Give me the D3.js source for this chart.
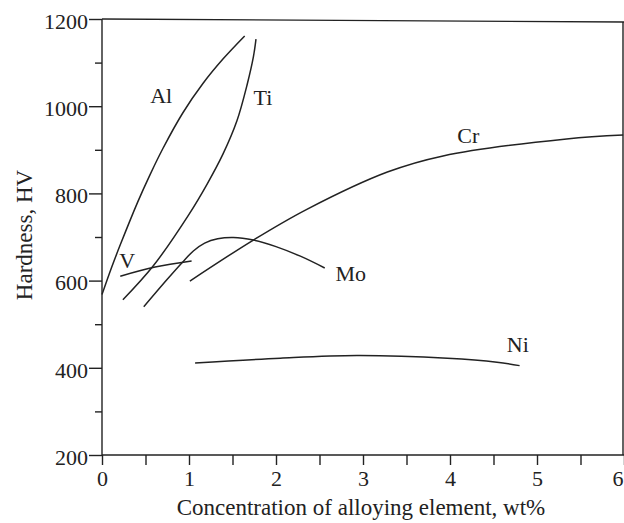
<!DOCTYPE html>
<html>
<head>
<meta charset="utf-8">
<script src="https://cdn.jsdelivr.net/npm/d3@7"></script>
<style>
  body { margin: 0; background: #fff; }
  text { font-family: "Liberation Serif", "Times New Roman", serif; fill: #222; }
</style>
</head>
<body>
<div id="chart"></div>
<script>
// concentration (wt%) and hardness (HV)
var alConc = [0, 0.11, 0.21, 0.41, 0.55, 0.70, 0.93, 1.16, 1.39, 1.64];
var alHv   = [568, 630, 682, 780, 842, 903, 985, 1052, 1108, 1161];

var tiConc = [0.24, 0.59, 1.0, 1.21, 1.39, 1.55, 1.67, 1.74, 1.77];
var tiHv   = [556, 634, 752, 822, 890, 966, 1051, 1113, 1154];

var moConc = [0.48, 0.75, 0.92, 1.05, 1.18, 1.33, 1.51, 1.74, 2.0, 2.28, 2.56];
var moHv   = [540, 603, 641, 668, 686, 696, 699, 693, 678, 656, 629];

var crConc = [1.01, 1.74, 2.36, 3.28, 3.92, 5.34, 5.99];
var crHv   = [599, 693, 764, 849, 886, 925, 934];

var vConc = [0.21, 0.61, 1.03];
var vHv   = [610, 631, 645];

var niConc = [1.07, 2.05, 2.93, 3.97, 4.54, 4.80];
var niHv   = [411, 422, 428, 422, 413, 405];

var seriesNames = ["Al", "Ti", "Mo", "Cr", "V", "Ni"];
var labelConc = [0.68, 1.85, 2.86, 4.21, 0.29, 4.78];
var labelHv   = [1007, 1003, 599, 916, 629, 436];

var xTickValues = [0, 1, 2, 3, 4, 5, 6];
var xMinorValues = [0.5, 1.5, 2.5, 3.5, 4.5, 5.5];
var yTickValues = [200, 400, 600, 800, 1000, 1200];
var yMinorValues = [300, 500, 700, 900, 1100];

var width = 624, height = 523;

var svg = d3.select("#chart").append("svg")
  .attr("width", width)
  .attr("height", height);

var x = d3.scaleLinear().domain([0, 6]).range([102, 624]);
var y = d3.scaleLinear().domain([200, 1200]).range([455, 19]);

var ink = "#222";

// frame: top line and right line
svg.append("line")
  .attr("x1", x(0)).attr("x2", 624)
  .attr("y1", y(1200)).attr("y2", y(1200) + 3)
  .attr("stroke", ink).attr("stroke-width", 1.4);
svg.append("line")
  .attr("x1", 623).attr("x2", 623)
  .attr("y1", y(1200) + 3).attr("y2", y(200))
  .attr("stroke", ink).attr("stroke-width", 1.4);

// y axis
var yAxis = d3.axisLeft(y).tickValues(yTickValues).tickSize(13).tickPadding(1)
  .tickFormat(d3.format("d"));
var gy = svg.append("g").attr("transform", "translate(" + x(0) + ",0)").call(yAxis);
gy.selectAll("text").attr("font-size", 22).attr("dy", "0.42em")
  .style("font-family", "Liberation Serif").attr("fill", ink);
gy.selectAll("line, path").attr("stroke", ink).attr("stroke-width", 1.4);
gy.select(".domain").attr("d", "M0," + y(1200) + "V" + y(200));

var yMinor = d3.axisLeft(y).tickValues(yMinorValues).tickSize(7).tickFormat("");
var gym = svg.append("g").attr("transform", "translate(" + x(0) + ",0)").call(yMinor);
gym.select(".domain").remove();
gym.selectAll("line").attr("stroke", ink).attr("stroke-width", 1.4);

// x axis
var xAxis = d3.axisBottom(x).tickValues(xTickValues).tickSize(10).tickPadding(5)
  .tickFormat(d3.format("d"));
var gx = svg.append("g").attr("transform", "translate(0," + y(200) + ")").call(xAxis);
gx.selectAll("text").attr("font-size", 22).attr("dy", "0.71em")
  .style("font-family", "Liberation Serif").attr("fill", ink);
// last label sits at the right edge, keep it inside the page
gx.selectAll("text").filter(function(d) { return d === 6; })
  .attr("text-anchor", "end").attr("dx", -1);
gx.selectAll("line, path").attr("stroke", ink).attr("stroke-width", 1.4);
gx.select(".domain").attr("d", "M" + x(0) + ",0H624");

var xMinor = d3.axisBottom(x).tickValues(xMinorValues).tickSize(10).tickFormat("");
var gxm = svg.append("g").attr("transform", "translate(0," + y(200) + ")").call(xMinor);
gxm.select(".domain").remove();
gxm.selectAll("line").attr("stroke", ink).attr("stroke-width", 1.4);

// axis titles
svg.append("text")
  .attr("x", 361).attr("y", 515)
  .attr("text-anchor", "middle")
  .attr("font-size", 23)
  .text("Concentration of alloying element, wt%");

svg.append("text")
  .attr("transform", "translate(32,235) rotate(-90)")
  .attr("text-anchor", "middle")
  .attr("font-size", 23)
  .text("Hardness, HV");

// curves
var curves = [
  [alConc, alHv], [tiConc, tiHv], [moConc, moHv],
  [crConc, crHv], [vConc, vHv], [niConc, niHv]
];

var line = d3.line()
  .x(function(d) { return x(d[0]); })
  .y(function(d) { return y(d[1]); })
  .curve(d3.curveCatmullRom.alpha(0.5));

svg.selectAll(".curve")
  .data(curves)
  .enter().append("path")
    .attr("class", "curve")
    .attr("fill", "none")
    .attr("stroke", ink)
    .attr("stroke-width", 1.5)
    .attr("d", function(c) { return line(d3.zip(c[0], c[1])); });

svg.selectAll(".lbl")
  .data(seriesNames)
  .enter().append("text")
    .attr("class", "lbl")
    .attr("text-anchor", "middle")
    .attr("font-size", 22)
    .attr("x", function(d, i) { return x(labelConc[i]); })
    .attr("y", function(d, i) { return y(labelHv[i]); })
    .text(function(d) { return d; });
</script>
</body>
</html>
